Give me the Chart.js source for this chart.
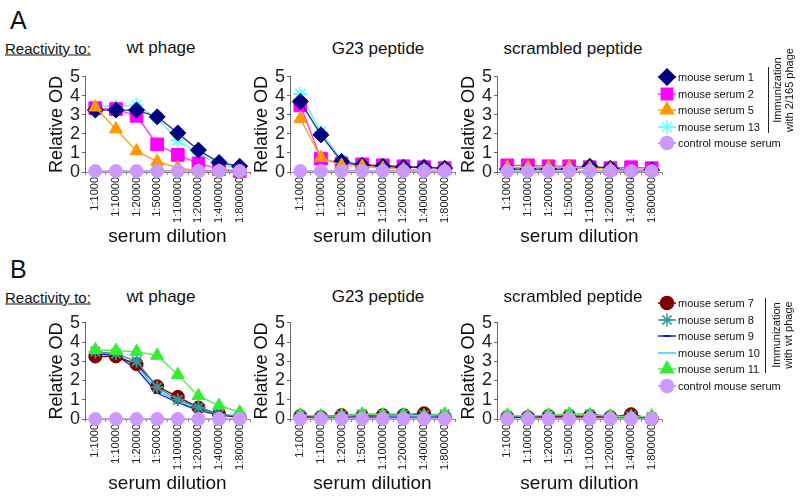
<!DOCTYPE html>
<html>
<head>
<meta charset="utf-8">
<script src="https://cdn.jsdelivr.net/npm/chart.js@4.4.1/dist/chart.umd.min.js"></script>
<style>
    body { margin: 0; background: #fff; font-family: 'Liberation Sans', Arial, sans-serif; color: #111; }
    #page { position: relative; width: 800px; height: 500px; overflow: hidden; }
    canvas.panel { position: absolute; }
    .txt { position: absolute; white-space: nowrap; }
    .mid { transform: translate(-50%, -50%); }
    .letter { font-size: 25px; }
    .react { font-size: 15px; text-decoration: underline; transform: translateY(-50%); }
    .ptitle { font-size: 17px; }
    .leg-row { position: absolute; height: 18px; font-size: 11px; line-height: 18px; white-space: nowrap; }
    .leg-row canvas { position: absolute; left: 0; top: 0; }
    .leg-row span { position: absolute; left: 21px; top: 0; }
    .vline { position: absolute; width: 1px; background: #222; }
    .rot { position: absolute; font-size: 11px; line-height: 12px; text-align: center; transform: translate(-50%, -50%) rotate(-90deg); white-space: nowrap; }
</style>
</head>
<body>
<div id="page"></div>
<script>
// Serum dilution series, ELISA reactivity (relative OD)

const dilutions = ['1:1000', '1:10000', '1:20000', '1:50000', '1:100000', '1:200000', '1:400000', '1:800000'];
const yTicks = [0, 1, 2, 3, 4, 5];
const panelTitles = ['wt phage', 'G23 peptide', 'scrambled peptide'];

// Group A: immunization with 2/165 phage
const groupANames = ['mouse serum 1', 'mouse serum 2', 'mouse serum 5', 'mouse serum 13', 'control mouse serum'];

const aWt1 = [3.25, 3.25, 3.25, 2.9, 2.05, 1.15, 0.5, 0.3];
const aWt2 = [3.35, 3.3, 2.95, 1.45, 0.9, 0.45, 0.15, 0.05];
const aWt5 = [3.4, 2.25, 1.1, 0.55, 0.22, 0.05, 0.05, 0.03];
const aWt13 = [3.45, 3.45, 3.5, 2.85, 1.65, 0.95, 0.4, 0.15];
const aWtCtrl = [0.05, 0.05, 0.05, 0.05, 0.05, 0.05, 0.05, 0.05];

const aG23_1 = [3.7, 1.95, 0.55, 0.35, 0.3, 0.25, 0.25, 0.2];
const aG23_2 = [3.5, 0.7, 0.45, 0.4, 0.35, 0.3, 0.25, 0.2];
const aG23_5 = [2.8, 0.75, 0.35, 0.3, 0.2, 0.15, 0.1, 0.1];
const aG23_13 = [4.1, 2.1, 0.65, 0.35, 0.3, 0.25, 0.25, 0.2];
const aG23Ctrl = [0.05, 0.05, 0.05, 0.05, 0.05, 0.05, 0.05, 0.05];

const aScr1 = [0.15, 0.15, 0.15, 0.15, 0.3, 0.2, 0.05, 0.1];
const aScr2 = [0.35, 0.35, 0.3, 0.3, 0.25, 0.2, 0.25, 0.2];
const aScr5 = [0.25, 0.25, 0.25, 0.25, 0.2, 0.15, 0.05, 0.05];
const aScr13 = [0.2, 0.2, 0.2, 0.2, 0.2, 0.2, 0.15, 0.1];
const aScrCtrl = [0.05, 0.05, 0.05, 0.05, 0.05, 0.05, 0.05, 0.05];

// Group B: immunization with wt phage
const groupBNames = ['mouse serum 7', 'mouse serum 8', 'mouse serum 9', 'mouse serum 10', 'mouse serum 11', 'control mouse serum'];

const bWt7 = [3.25, 3.25, 2.85, 1.7, 1.15, 0.6, 0.25, 0.1];
const bWt8 = [3.5, 3.4, 3.0, 1.65, 1.0, 0.6, 0.25, 0.15];
const bWt9 = [3.4, 3.3, 2.6, 1.35, 0.85, 0.45, 0.2, 0.1];
const bWt10 = [3.45, 3.35, 2.75, 1.5, 0.9, 0.5, 0.2, 0.1];
const bWt11 = [3.6, 3.55, 3.5, 3.3, 2.3, 1.2, 0.7, 0.35];
const bWtCtrl = [0, 0, 0, 0, 0, 0, 0, 0];

const bG23_7 = [0.15, 0.1, 0.2, 0.15, 0.2, 0.2, 0.3, 0.1];
const bG23_8 = [0.2, 0.15, 0.2, 0.25, 0.25, 0.25, 0.2, 0.25];
const bG23_9 = [0.1, 0.1, 0.1, 0.1, 0.1, 0.1, 0.1, 0.1];
const bG23_10 = [0.15, 0.15, 0.15, 0.15, 0.15, 0.15, 0.15, 0.15];
const bG23_11 = [0.2, 0.15, 0.15, 0.25, 0.2, 0.2, 0.15, 0.25];
const bG23Ctrl = [0, 0, 0, 0, 0, 0, 0, 0];

const bScr7 = [0.1, 0.1, 0.15, 0.15, 0.15, 0.1, 0.25, 0.0];
const bScr8 = [0.15, 0.15, 0.2, 0.25, 0.25, 0.15, 0.15, 0.1];
const bScr9 = [0.1, 0.1, 0.1, 0.1, 0.1, 0.1, 0.1, 0.05];
const bScr10 = [0.15, 0.15, 0.15, 0.15, 0.15, 0.15, 0.1, 0.05];
const bScr11 = [0.2, 0.15, 0.2, 0.25, 0.2, 0.15, 0.1, 0.15];
const bScrCtrl = [0, 0, 0, 0, 0, 0, 0, 0];

// Marker looks per series (colour, point style, radius, draw order)
const styleA = [
    { color: '#000080', line: '#2b3a7a', pointStyle: 'rectRot', radius: 8, order: 2 },
    { color: '#ff00ff', line: '#ff33ff', pointStyle: 'rect', radius: 9, order: 3 },
    { color: '#ff9900', line: '#f5a623', pointStyle: 'triangle', radius: 7.5, order: 1 },
    { color: '#66ffff', line: '#66f0ff', pointStyle: 'star', radius: 7, order: 4 },
    { color: '#cc99ff', line: '#b98be8', pointStyle: 'circle', radius: 6.5, order: 0 }
];
const styleB = [
    { color: '#800000', line: '#800000', pointStyle: 'circle', radius: 6.5, order: 3 },
    { color: '#339999', line: '#339999', pointStyle: 'star', radius: 6.5, order: 2 },
    { color: '#0000cc', line: '#2222cc', pointStyle: 'line', radius: 3.5, order: 4 },
    { color: '#33ccff', line: '#33ccff', pointStyle: 'line', radius: 0, order: 5 },
    { color: '#33ee33', line: '#55ee55', pointStyle: 'triangle', radius: 7.5, order: 1 },
    { color: '#cc99ff', line: '#b98be8', pointStyle: 'circle', radius: 6.5, order: 0 }
];

const FONT = "'Liberation Sans', Arial, sans-serif";
const page = document.getElementById('page');

// Plot-area geometry (chart area left edges / top edges)
const plotLefts = [85, 290, 497];
const plotW = 165;
const Y_AXIS_W = 44;
const X_AXIS_H = 78;
const PAD_TOP = 12;
const PAD_RIGHT = 10;

function addText(text, cls, x, y) {
    const d = document.createElement('div');
    d.className = 'txt ' + cls;
    d.textContent = text;
    d.style.left = x + 'px';
    d.style.top = y + 'px';
    page.appendChild(d);
    return d;
}

function buildDatasets(names, series, styles) {
    return series.map((vals, i) => ({
        label: names[i],
        data: vals,
        borderColor: styles[i].line,
        backgroundColor: styles[i].color,
        pointStyle: styles[i].pointStyle,
        pointRadius: styles[i].radius,
        pointBackgroundColor: styles[i].color,
        pointBorderColor: styles[i].color,
        pointBorderWidth: styles[i].pointStyle === 'star' || styles[i].pointStyle === 'line' ? 2 : 1,
        borderWidth: 1.4,
        tension: 0,
        order: styles[i].order,
        clip: false
    }));
}

function makePanel(left, plotTop, plotH, datasets) {
    const canvas = document.createElement('canvas');
    canvas.className = 'panel';
    canvas.width = Y_AXIS_W + plotW + PAD_RIGHT;
    canvas.height = PAD_TOP + plotH + X_AXIS_H;
    canvas.style.left = (left - Y_AXIS_W) + 'px';
    canvas.style.top = (plotTop - PAD_TOP) + 'px';
    page.appendChild(canvas);

    return new Chart(canvas.getContext('2d'), {
        type: 'line',
        data: { labels: dilutions, datasets: datasets },
        options: {
            responsive: false,
            animation: false,
            events: [],
            layout: { padding: { top: PAD_TOP, right: PAD_RIGHT, left: 0, bottom: 0 } },
            plugins: {
                legend: { display: false },
                tooltip: { enabled: false }
            },
            scales: {
                x: {
                    offset: true,
                    grid: { drawOnChartArea: false, offset: true, tickLength: 3, color: '#888' },
                    border: { color: '#888', width: 1 },
                    ticks: {
                        minRotation: 90,
                        maxRotation: 90,
                        autoSkip: false,
                        padding: 2,
                        color: '#222',
                        font: { family: FONT, size: 11 }
                    },
                    title: {
                        display: true,
                        text: 'serum dilution',
                        color: '#111',
                        padding: { top: 0, bottom: 2 },
                        font: { family: FONT, size: 19 }
                    },
                    afterFit: function(scale) { scale.height = X_AXIS_H; }
                },
                y: {
                    min: 0,
                    max: 5,
                    afterBuildTicks: function(scale) {
                        scale.ticks = yTicks.map(v => ({ value: v }));
                    },
                    grid: { drawOnChartArea: false, tickLength: 3, color: '#666' },
                    border: { color: '#666', width: 1 },
                    ticks: {
                        autoSkip: false,
                        padding: 2,
                        color: '#222',
                        font: { family: FONT, size: 18 }
                    },
                    title: {
                        display: true,
                        text: 'Relative OD',
                        color: '#111',
                        padding: { top: 5, bottom: 0 },
                        font: { family: FONT, size: 18 }
                    },
                    afterFit: function(scale) { scale.width = Y_AXIS_W; }
                }
            }
        }
    });
}

function drawMarker(ctx, style, x, y) {
    ctx.strokeStyle = style.line;
    ctx.lineWidth = 1.5;
    ctx.beginPath();
    ctx.moveTo(1, y);
    ctx.lineTo(19, y);
    ctx.stroke();
    if (style.radius > 0 && Chart.helpers && Chart.helpers.drawPoint) {
        ctx.fillStyle = style.color;
        ctx.strokeStyle = style.color;
        Chart.helpers.drawPoint(ctx, {
            pointStyle: style.pointStyle,
            radius: Math.min(style.radius, 8),
            rotation: 0,
            borderWidth: (style.pointStyle === 'star' || style.pointStyle === 'line') ? 1.5 : 1
        }, x, y);
    }
}

function makeLegend(names, styles, left, top0, step) {
    names.forEach((name, i) => {
        const row = document.createElement('div');
        row.className = 'leg-row';
        row.style.left = left + 'px';
        row.style.top = (top0 + i * step - 9) + 'px';
        const c = document.createElement('canvas');
        c.width = 20;
        c.height = 18;
        row.appendChild(c);
        const s = document.createElement('span');
        s.textContent = name;
        row.appendChild(s);
        page.appendChild(row);
        drawMarker(c.getContext('2d'), styles[i], 10, 9);
    });
}

function makeBracket(x, y1, y2, lines, cx, cy) {
    const v = document.createElement('div');
    v.className = 'vline';
    v.style.left = x + 'px';
    v.style.top = y1 + 'px';
    v.style.height = (y2 - y1) + 'px';
    page.appendChild(v);
    const t = document.createElement('div');
    t.className = 'rot';
    t.innerHTML = lines.join('<br>');
    t.style.left = cx + 'px';
    t.style.top = cy + 'px';
    page.appendChild(t);
}

// ---- Row A ----
addText('A', 'letter', 10, 6);
addText('Reactivity to:', 'react', 5, 48);
addText(panelTitles[0], 'ptitle mid', 161, 48);
addText(panelTitles[1], 'ptitle mid', 378, 49);
addText(panelTitles[2], 'ptitle mid', 573, 49);

makePanel(plotLefts[0], 76, 96, buildDatasets(groupANames, [aWt1, aWt2, aWt5, aWt13, aWtCtrl], styleA));
makePanel(plotLefts[1], 76, 96, buildDatasets(groupANames, [aG23_1, aG23_2, aG23_5, aG23_13, aG23Ctrl], styleA));
makePanel(plotLefts[2], 76, 96, buildDatasets(groupANames, [aScr1, aScr2, aScr5, aScr13, aScrCtrl], styleA));

makeLegend(groupANames, styleA, 657, 77, 16.5);
makeBracket(768, 67, 133, ['Immunization', 'with 2/165 phage'], 783, 90);

// ---- Row B ----
addText('B', 'letter', 10, 255);
addText('Reactivity to:', 'react', 5, 297);
addText(panelTitles[0], 'ptitle mid', 161, 297);
addText(panelTitles[1], 'ptitle mid', 378, 297);
addText(panelTitles[2], 'ptitle mid', 573, 297);

makePanel(plotLefts[0], 322, 97, buildDatasets(groupBNames, [bWt7, bWt8, bWt9, bWt10, bWt11, bWtCtrl], styleB));
makePanel(plotLefts[1], 322, 97, buildDatasets(groupBNames, [bG23_7, bG23_8, bG23_9, bG23_10, bG23_11, bG23Ctrl], styleB));
makePanel(plotLefts[2], 322, 97, buildDatasets(groupBNames, [bScr7, bScr8, bScr9, bScr10, bScr11, bScrCtrl], styleB));

makeLegend(groupBNames, styleB, 657, 303, 16.6);
makeBracket(765, 298, 373, ['Immunization', 'with wt phage'], 782, 335);
</script>
</body>
</html>
